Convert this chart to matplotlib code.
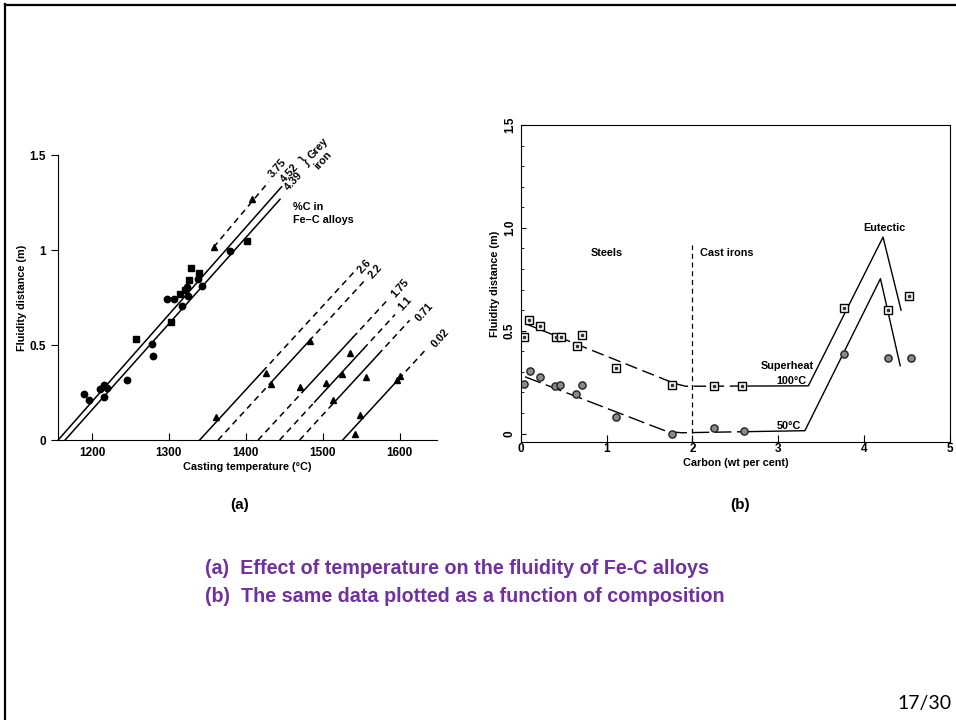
import matplotlib
matplotlib.use('Agg')
import matplotlib.pyplot as plt
import numpy as np
from matplotlib.lines import Line2D

plt.rcParams['font.family'] = ['Liberation Sans', 'DejaVu Sans']

# ---- panel (a): fluidity vs casting temperature ----
grey_circ_T = [1189, 1196, 1210, 1216, 1216, 1220, 1245, 1278, 1279, 1298, 1306,
               1317, 1323, 1325, 1338, 1343, 1379]
grey_circ_v = [0.242, 0.21, 0.267, 0.29, 0.228, 0.272, 0.316, 0.505, 0.442, 0.742,
               0.742, 0.707, 0.807, 0.758, 0.846, 0.81, 0.995]
grey_sq_T = [1257, 1303, 1314, 1321, 1326, 1329, 1339, 1402]
grey_sq_v = [0.53, 0.623, 0.768, 0.79, 0.84, 0.907, 0.88, 1.05]
tri_T = [1358, 1408, 1361, 1426, 1433, 1470, 1483, 1504, 1514, 1525, 1536, 1542,
         1549, 1556, 1596, 1600]
tri_v = [1.014, 1.27, 0.123, 0.354, 0.295, 0.28, 0.52, 0.30, 0.21, 0.35, 0.46, 0.03,
         0.13, 0.33, 0.316, 0.335]

# grey iron lines: start and end points
grey_labels = ['4.52', '4.39', '3.75']
grey_T0 = [1156, 1165, 1358]
grey_v0 = [0.0, 0.0, 1.014]
grey_T1 = [1446.6, 1444.5, 1430]
grey_v1 = [1.333, 1.267, 1.36]
grey_dash = [False, False, True]

# steel lines: x-intercept, end point and solid part (in fluidity)
steel_labels = ['2.6', '2.2', '1.75', '1.1', '0.71', '0.02']
steel_T0 = [1340, 1364, 1416, 1444, 1470, 1526]
steel_T1 = [1542, 1557, 1585, 1594, 1613, 1635]
steel_v1 = [0.89, 0.85, 0.74, 0.66, 0.63, 0.48]
solid_lo = [0.0, 0.30, 0.25, 0.20, 0.20, 0.0]
solid_hi = [0.36, 0.52, 0.54, 0.48, 0.45, 0.32]

# ---- panel (b): fluidity vs carbon ----
sq_c = [0.04, 0.10, 0.23, 0.41, 0.47, 0.65, 0.71, 1.11, 1.76, 2.25, 2.58, 3.76, 4.28, 4.52]
sq_v = [0.47, 0.554, 0.523, 0.47, 0.47, 0.425, 0.478, 0.32, 0.234, 0.232, 0.23, 0.61, 0.603, 0.667]
ci_c = [0.04, 0.11, 0.22, 0.40, 0.46, 0.64, 0.71, 1.11, 1.76, 2.25, 2.60, 3.77, 4.28, 4.54]
ci_v = [0.239, 0.305, 0.276, 0.232, 0.235, 0.19, 0.235, 0.082, 0.0, 0.028, 0.014, 0.386, 0.368, 0.368]

c100 = [0.05, 1.79, 1.92, 3.35, 4.22, 4.43]
v100 = [0.535, 0.244, 0.23, 0.232, 0.955, 0.60]
c50 = [0.05, 1.71, 1.88, 3.31, 4.19, 4.42]
v50 = [0.276, 0.009, 0.004, 0.014, 0.753, 0.33]
dash_end = 2.65

W, H = 956, 720


def box(l, t, r, b):
    return [l / W, 1 - b / H, (r - l) / W, (b - t) / H]


fig = plt.figure(figsize=(9.56, 7.2), dpi=100)

# slide frame
fig.add_artist(Line2D([5 / W, 5 / W], [0, 1 - 4 / H], color='black', lw=1.6))
fig.add_artist(Line2D([5 / W, 1], [1 - 5 / H, 1 - 5 / H], color='black', lw=1.6))

txt = dict(fontsize=7.8, fontweight='bold')

# ===== panel (a) =====
axa = fig.add_axes(box(58, 155, 437, 440))
axa.set_xlim(1155.8, 1648.6)
axa.set_ylim(0, 1.5)
for s in ['top', 'right']:
    axa.spines[s].set_visible(False)
axa.set_xticks([1200, 1300, 1400, 1500, 1600])
axa.set_yticks([0, 0.5, 1, 1.5])
axa.set_yticklabels(['0', '0.5', '1', '1.5'])
axa.tick_params(axis='x', direction='in', length=5, labelsize=8.5, pad=5)
axa.tick_params(axis='y', direction='out', length=5, labelsize=8.5)
for lab in axa.get_xticklabels() + axa.get_yticklabels():
    lab.set_fontweight('bold')
axa.set_xlabel('Casting temperature (°C)', **txt, labelpad=2)
axa.set_ylabel('Fluidity distance (m)', **txt, labelpad=2)

for i in range(3):
    axa.plot([grey_T0[i], grey_T1[i]], [grey_v0[i], grey_v1[i]], color='black', lw=1.1,
             ls=(0, (4, 3)) if grey_dash[i] else '-', clip_on=False)

for i in range(6):
    seg_v = [0.0, solid_lo[i], solid_hi[i], steel_v1[i]]
    seg_T = np.interp(seg_v, [0.0, steel_v1[i]], [steel_T0[i], steel_T1[i]])
    if solid_lo[i] > 0:
        axa.plot(seg_T[0:2], seg_v[0:2], color='black', lw=1.1, ls=(0, (4, 3)))
    axa.plot(seg_T[1:3], seg_v[1:3], color='black', lw=1.1)
    axa.plot(seg_T[2:4], seg_v[2:4], color='black', lw=1.1, ls=(0, (4, 3)), clip_on=False)

axa.plot(grey_circ_T, grey_circ_v, 'o', color='black', ms=4.6)
axa.plot(grey_sq_T, grey_sq_v, 's', color='black', ms=4.0)
axa.plot(tri_T, tri_v, '^', color='black', ms=3.8, mfc='black')

rot = 48
lab_a_T = [1457.5, 1462, 1442, 1553.7, 1569, 1600.5, 1607, 1631.7, 1652.5]
lab_a_v = [1.404, 1.36, 1.43, 0.916, 0.886, 0.798, 0.72, 0.675, 0.535]
for s, T, v in zip(grey_labels + steel_labels, lab_a_T, lab_a_v):
    axa.text(T, v, s, rotation=rot, ha='center', va='center', clip_on=False, **txt)
axa.text(1477, 1.47, '}', rotation=rot, ha='center', va='center', fontsize=12, clip_on=False)
axa.text(1494, 1.535, 'Grey', rotation=rot, ha='center', va='center', clip_on=False, **txt)
axa.text(1500, 1.47, 'iron', rotation=rot, ha='center', va='center', clip_on=False, **txt)
axa.text(1461.5, 1.228, '%C in', ha='left', va='center', **txt)
axa.text(1461.5, 1.158, 'Fe–C alloys', ha='left', va='center', **txt)

# ===== panel (b) =====
axb = fig.add_axes(box(520.7, 125, 950, 442))
axb.set_xlim(0, 5)
axb.set_ylim(-0.041, 1.5)
axb.set_xticks([0, 1, 2, 3, 4, 5])
axb.set_yticks([0, 0.5, 1.0, 1.5])
axb.set_yticklabels(['0', '0.5', '1.0', '1.5'])
axb.set_yticks(np.arange(0, 1.51, 0.1), minor=True)
axb.tick_params(axis='both', which='both', direction='in', labelsize=8.5)
axb.tick_params(axis='y', labelrotation=90)
axb.tick_params(axis='x', length=5, pad=5)
for lab in axb.get_xticklabels() + axb.get_yticklabels():
    lab.set_fontweight('bold')
    lab.set_verticalalignment('center')
axb.set_xlabel('Carbon (wt per cent)', **txt, labelpad=2)
axb.set_ylabel('Fluidity distance (m)', **txt, labelpad=3)

for cc, vv, dsh in [(c100, v100, (0, (9, 4))), (c50, v50, (0, (12, 4)))]:
    k = np.searchsorted(cc, dash_end)
    vb = np.interp(dash_end, cc, vv)
    axb.plot(list(cc[:k]) + [dash_end], list(vv[:k]) + [vb], color='black', lw=1.0, ls=dsh)
    axb.plot([dash_end] + list(cc[k:]), [vb] + list(vv[k:]), color='black', lw=1.0)

axb.plot([2, 2], [-0.041, 0.915], color='black', lw=0.9, ls=(0, (4, 3)))

axb.plot(sq_c, sq_v, 's', ms=5.2, mfc='white', mec='black', mew=1.0)
axb.plot(sq_c, sq_v, 's', ms=1.8, color='#333333')
axb.plot(ci_c, ci_v, 'o', ms=5.2, mfc='#8a8a8a', mec='#222222', mew=1.0)

axb.text(1.0, 0.88, 'Steels', ha='center', va='center', **txt)
axb.text(2.09, 0.88, 'Cast irons', ha='left', va='center', **txt)
axb.text(4.24, 1.0, 'Eutectic', ha='center', va='center', **txt)
axb.text(3.41, 0.33, 'Superheat', ha='right', va='center', **txt)
axb.text(3.33, 0.256, '100°C', ha='right', va='center', **txt)
axb.text(3.27, 0.038, '50°C', ha='right', va='center', **txt)

# panel tags and caption
fig.text(240 / W, 1 - 505 / H, '(a)', ha='center', va='center', fontsize=11, fontweight='bold')
fig.text(740 / W, 1 - 505 / H, '(b)', ha='center', va='center', fontsize=11, fontweight='bold')

cap = dict(fontsize=14.2, fontweight='bold', color='#7030A0')
fig.text(205 / W, 1 - 569 / H, '(a)  Effect of temperature on the fluidity of Fe-C alloys',
         ha='left', va='center', **cap)
fig.text(205 / W, 1 - 597 / H, '(b)  The same data plotted as a function of composition',
         ha='left', va='center', **cap)
fig.text(925 / W, 1 - 703 / H, '17/30', ha='center', va='center', fontsize=14,
         family=['Lato', 'DejaVu Sans'])

fig.savefig('out.png', dpi=100)
